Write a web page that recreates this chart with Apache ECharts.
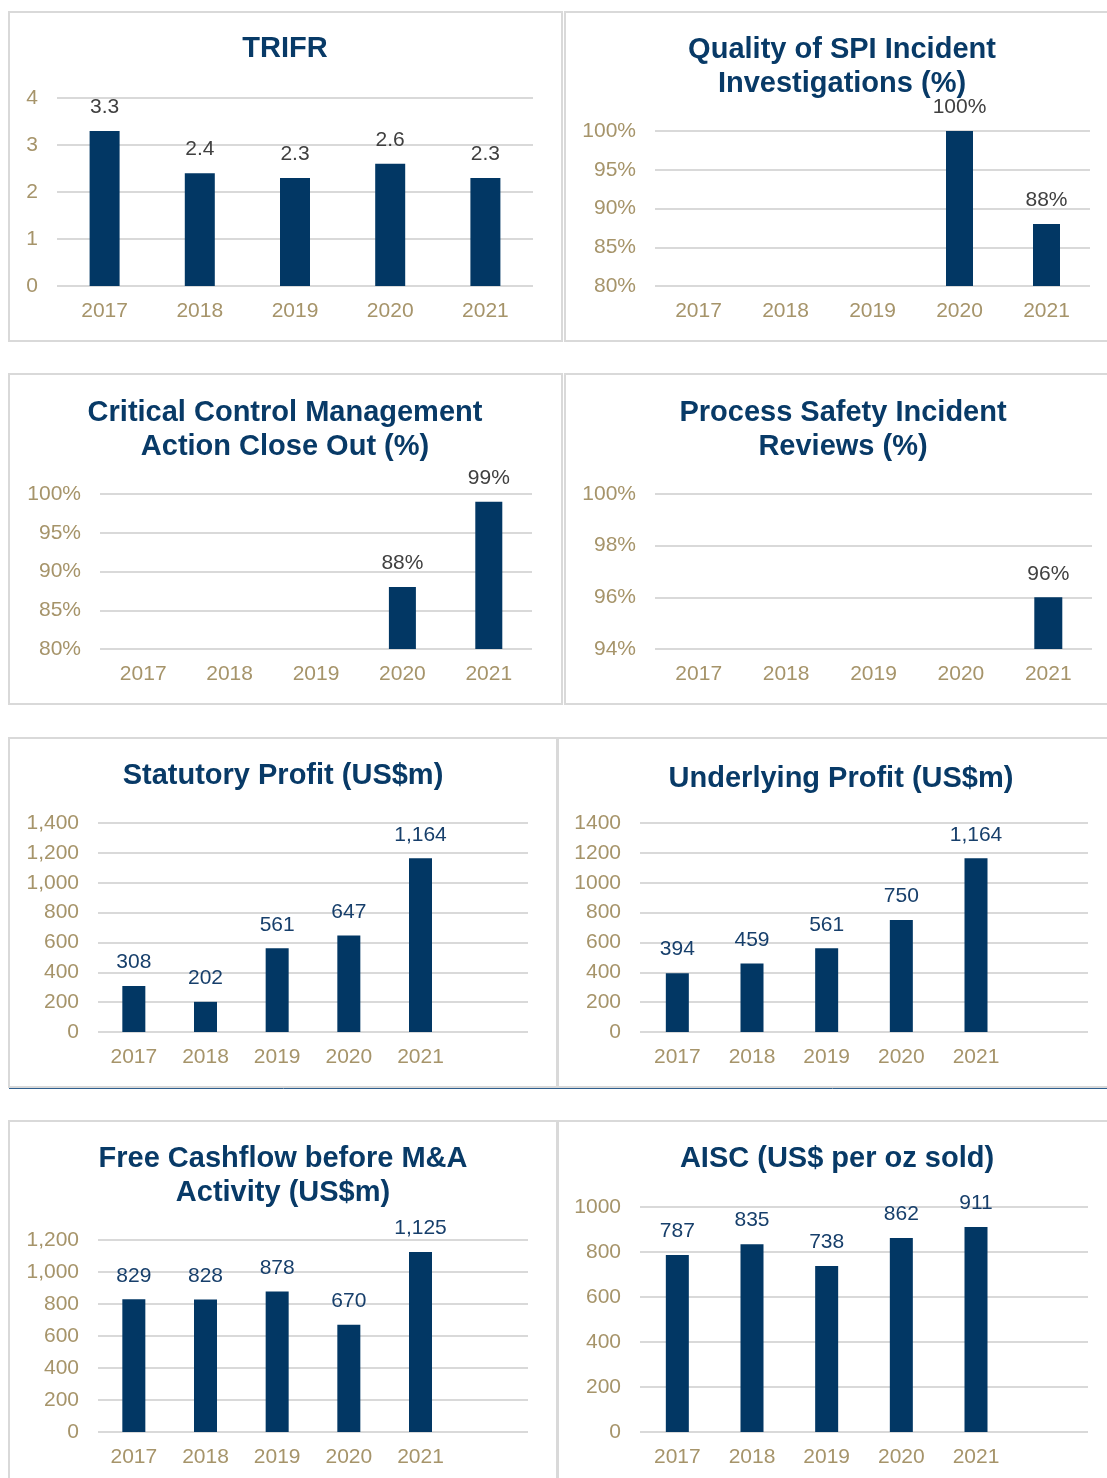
<!DOCTYPE html>
<html>
<head>
<meta charset="utf-8">
<script src="https://cdn.jsdelivr.net/npm/echarts@6/dist/echarts.min.js"></script>
<style>
html,body{margin:0;padding:0;background:#fff;}
#c{width:1107px;height:1478px;}
</style>
</head>
<body>
<div id="c"></div>
<script>
// ---- data ----
const years = ['2017', '2018', '2019', '2020', '2021'];

const trifrTitle = 'TRIFR';
const trifrValues = [3.3, 2.4, 2.3, 2.6, 2.3];
const trifrTicks = [0, 1, 2, 3, 4];

const spiTitle = 'Quality of SPI Incident\nInvestigations (%)';
const spiValues = [null, null, null, 100, 88];
const spiTicks = ['80%', '85%', '90%', '95%', '100%'];

const ccmTitle = 'Critical Control Management\nAction Close Out (%)';
const ccmValues = [null, null, null, 88, 99];
const ccmTicks = ['80%', '85%', '90%', '95%', '100%'];

const psiTitle = 'Process Safety Incident\nReviews (%)';
const psiValues = [null, null, null, null, 96];
const psiTicks = ['94%', '96%', '98%', '100%'];

const statTitle = 'Statutory Profit (US$m)';
const statValues = [308, 202, 561, 647, 1164];
const statTicks = ['0', '200', '400', '600', '800', '1,000', '1,200', '1,400'];

const undTitle = 'Underlying Profit (US$m)';
const undValues = [394, 459, 561, 750, 1164];
const undTicks = ['0', '200', '400', '600', '800', '1000', '1200', '1400'];

const fcfTitle = 'Free Cashflow before M&A\nActivity (US$m)';
const fcfValues = [829, 828, 878, 670, 1125];
const fcfTicks = ['0', '200', '400', '600', '800', '1,000', '1,200'];

const aiscTitle = 'AISC (US$ per oz sold)';
const aiscValues = [787, 835, 738, 862, 911];
const aiscTicks = ['0', '200', '400', '600', '800', '1000'];

// ---- styles ----
const FONT = '"Liberation Sans", Arial, sans-serif';
const TAN = '#A6946A';
const NAVY_BAR = '#023764';
const TITLE_C = '#083A67';
const GRAY_LBL = '#404040';
const NAVY_LBL = '#173F6B';
const GRID_C = '#D9D9D9';
const FS = 21;

const num = s => Number(String(s).replace(/[,%]/g, ''));

// panel layout specs
const panels = [
  {title: trifrTitle, values: trifrValues, ticks: trifrTicks,
   tx: 285, ty: 47, grid: {left: 57, top: 98, width: 476, height: 188}, extra: false, bw: 30, lc: GRAY_LBL, fmt: v => v.toFixed(1)},
  {title: spiTitle, values: spiValues, ticks: spiTicks,
   tx: 842, ty: 48, grid: {left: 655, top: 131, width: 435, height: 155}, extra: false, bw: 27, lc: GRAY_LBL, fmt: v => v + '%'},
  {title: ccmTitle, values: ccmValues, ticks: ccmTicks,
   tx: 285, ty: 411, grid: {left: 100, top: 494, width: 432, height: 155}, extra: false, bw: 27, lc: GRAY_LBL, fmt: v => v + '%'},
  {title: psiTitle, values: psiValues, ticks: psiTicks,
   tx: 843, ty: 411, grid: {left: 655, top: 494, width: 437, height: 155}, extra: false, bw: 28, lc: GRAY_LBL, fmt: v => v + '%'},
  {title: statTitle, values: statValues, ticks: statTicks,
   tx: 283, ty: 774, grid: {left: 98, top: 823, width: 430, height: 209}, extra: true, bw: 23, lc: NAVY_LBL, fmt: v => v.toLocaleString('en-US')},
  {title: undTitle, values: undValues, ticks: undTicks,
   tx: 841, ty: 777, grid: {left: 640, top: 823, width: 448, height: 209}, extra: true, bw: 23, lc: NAVY_LBL, fmt: v => v.toLocaleString('en-US')},
  {title: fcfTitle, values: fcfValues, ticks: fcfTicks,
   tx: 283, ty: 1157, grid: {left: 98, top: 1240, width: 430, height: 192}, extra: true, bw: 23, lc: NAVY_LBL, fmt: v => v.toLocaleString('en-US')},
  {title: aiscTitle, values: aiscValues, ticks: aiscTicks,
   tx: 837, ty: 1157, grid: {left: 640, top: 1207, width: 448, height: 225}, extra: true, bw: 23, lc: NAVY_LBL, fmt: v => String(v)}
];

const option = {
  animation: false,
  backgroundColor: '#fff',
  textStyle: {fontFamily: FONT},
  title: [], grid: [], xAxis: [], yAxis: [], series: [],
  graphic: []
};

panels.forEach((p, i) => {
  const tickNums = p.ticks.map(num);
  const min = tickNums[0], max = tickNums[tickNums.length - 1];
  const interval = tickNums[1] - tickNums[0];
  const labelMap = {};
  p.ticks.forEach(t => { labelMap[num(t)] = String(t); });

  option.title.push({
    text: p.title, left: p.tx, top: p.ty - 15, textAlign: 'center', padding: 0,
    textStyle: {fontFamily: FONT, fontSize: 29, fontWeight: 'bold', color: TITLE_C, lineHeight: 34}
  });
  option.grid.push(Object.assign({containLabel: false}, p.grid));
  option.xAxis.push({
    type: 'category', gridIndex: i,
    data: p.extra ? years.concat(['']) : years,
    axisLine: {show: false}, axisTick: {show: false},
    axisLabel: {color: TAN, fontSize: FS, fontFamily: FONT, margin: 15, interval: 0}
  });
  option.yAxis.push({
    type: 'value', gridIndex: i, min: min, max: max, interval: interval,
    axisLine: {show: false}, axisTick: {show: false},
    splitLine: {show: true, lineStyle: {color: GRID_C, width: 2}},
    axisLabel: {color: TAN, fontSize: FS, fontFamily: FONT, margin: 19,
      formatter: v => labelMap[v] !== undefined ? labelMap[v] : ''}
  });
  option.series.push({
    type: 'bar', xAxisIndex: i, yAxisIndex: i,
    data: p.values, barWidth: p.bw,
    itemStyle: {color: NAVY_BAR},
    label: {show: true, position: 'top', distance: 13, fontSize: FS, fontFamily: FONT, color: p.lc,
      formatter: d => d.value == null ? '' : p.fmt(d.value)}
  });
});

// panel borders
const borders = [
  [9, 12, 553, 329], [565, 12, 560, 329],
  [9, 374, 553, 330], [565, 374, 560, 330],
  [9, 738, 548, 349], [558, 738, 560, 349],
  [9, 1121, 548, 370], [558, 1121, 560, 370]
];
borders.forEach(b => {
  option.graphic.push({type: 'rect', z: -1, silent: true,
    shape: {x: b[0], y: b[1], width: b[2], height: b[3]},
    style: {fill: null, stroke: GRID_C, lineWidth: 2}});
});
option.graphic.push({type: 'line', silent: true,
  shape: {x1: 9, y1: 1088.5, x2: 1107, y2: 1088.5},
  style: {stroke: '#2F5F8F', lineWidth: 1}});

const chart = echarts.init(document.getElementById('c'), null, {renderer: 'canvas'});
chart.setOption(option);
</script>
</body>
</html>
